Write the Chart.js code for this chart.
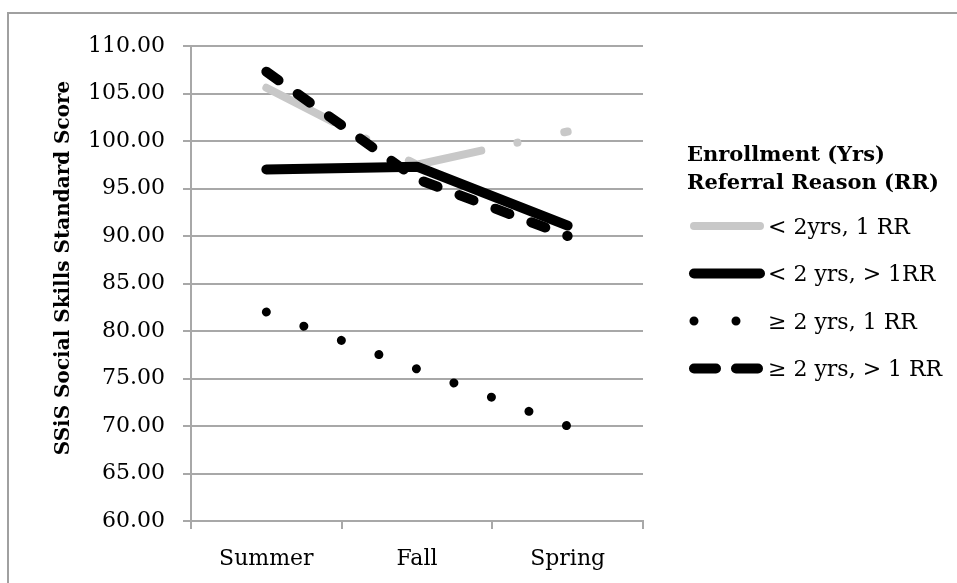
<!DOCTYPE html>
<html>
<head>
<meta charset="utf-8">
<script src="https://cdn.jsdelivr.net/npm/chart.js@4"></script>
<style>
  html, body { margin: 0; padding: 0; background: #fff; }
</style>
</head>
<body>
<canvas id="chart" width="957" height="583"></canvas>
<script>
const seasons = ['Summer', 'Fall', 'Spring'];
const under2OneRR = [105.6, 97.5, 101.0];
const under2MultiRR = [97.0, 97.3, 91.1];
const over2OneRR = [82.0, 76.0, 70.0];
const over2MultiRR = [107.3, 96.0, 90.0];
const seriesLabels = ['< 2yrs, 1 RR', '< 2 yrs, > 1RR', '≥ 2 yrs, 1 RR', '≥ 2 yrs, > 1 RR'];
const legendTitle = ['Enrollment (Yrs)', 'Referral Reason (RR)'];
const yTitle = 'SSiS Social Skills Standard Score';
const yMin = 60, yMax = 110, yStep = 5;

const serif = '"DejaVu Serif", serif';
const gridColor = '#a8a8a8';

// legend samples differ a bit from the plotted strokes (Excel shrinks the pattern)
const legendStyles = [
  { color: '#c8c8c8', width: 8, dash: [] },
  { color: '#000', width: 10, dash: [] },
  { color: '#000', width: 9, dash: [0, 42] },
  { color: '#000', width: 10, dash: [22, 20] }
];

const extras = {
  id: 'extras',
  afterDraw(chart) {
    const ctx = chart.ctx;
    ctx.save();

    // outer frame
    ctx.strokeStyle = '#a0a0a0';
    ctx.lineWidth = 2;
    ctx.strokeRect(8, 13, 1200, 1200);

    // y axis title
    ctx.save();
    ctx.translate(64, 268);
    ctx.rotate(-Math.PI / 2);
    ctx.font = 'bold 20px ' + serif;
    ctx.fillStyle = '#000';
    ctx.textAlign = 'center';
    ctx.textBaseline = 'middle';
    ctx.fillText(yTitle, 0, 0);
    ctx.restore();

    // legend
    ctx.fillStyle = '#000';
    ctx.textAlign = 'left';
    ctx.textBaseline = 'middle';
    ctx.font = 'bold 21px ' + serif;
    legendTitle.forEach((t, i) => ctx.fillText(t, 687, 156 + i * 28));

    ctx.font = '22px ' + serif;
    chart.data.datasets.forEach((ds, i) => {
      const y = 226 + i * 47.5;
      const s = legendStyles[i];
      ctx.beginPath();
      ctx.strokeStyle = s.color;
      ctx.lineWidth = s.width;
      ctx.lineCap = 'round';
      ctx.setLineDash(s.dash);
      ctx.moveTo(694, y);
      ctx.lineTo(760, y);
      ctx.stroke();
      ctx.setLineDash([]);
      ctx.fillText(ds.label, 768, y + 2);
    });
    ctx.restore();
  }
};

new Chart(document.getElementById('chart'), {
  type: 'line',
  data: {
    labels: seasons,
    datasets: [
      { label: seriesLabels[0], data: under2OneRR, borderColor: '#c8c8c8', borderWidth: 8,
        borderDash: [75, 37, 0.01, 48], borderCapStyle: 'round', order: 4 },
      { label: seriesLabels[1], data: under2MultiRR, borderColor: '#000', borderWidth: 10,
        borderCapStyle: 'round', order: 3 },
      { label: seriesLabels[2], data: over2OneRR, borderColor: '#000', borderWidth: 9,
        borderDash: [0.01, 40.1], borderCapStyle: 'round', order: 2 },
      { label: seriesLabels[3], data: over2MultiRR, borderColor: '#000', borderWidth: 10,
        borderDash: [15, 23.4], borderCapStyle: 'round', order: 1 }
    ]
  },
  options: {
    responsive: false,
    animation: false,
    devicePixelRatio: 1,
    layout: { padding: { left: 0, top: 46, right: 314, bottom: 0 } },
    elements: {
      point: { radius: 0, hoverRadius: 0 },
      line: { tension: 0, borderJoinStyle: 'round' }
    },
    plugins: {
      legend: { display: false },
      tooltip: { enabled: false }
    },
    scales: {
      x: {
        offset: true,
        afterFit(scale) { scale.height = 62; },
        grid: { offset: true, drawOnChartArea: false, drawTicks: true, tickLength: 8,
                color: gridColor, lineWidth: 2 },
        border: { color: gridColor, width: 2 },
        ticks: { color: '#000', padding: 17, font: { family: serif, size: 22 } }
      },
      y: {
        min: yMin,
        max: yMax,
        afterFit(scale) { scale.width = 191; },
        grid: { color: gridColor, lineWidth: 2, tickLength: 8 },
        border: { color: gridColor, width: 2 },
        ticks: {
          stepSize: yStep,
          color: '#000',
          padding: 18,
          font: { family: serif, size: 22 },
          callback: v => v.toFixed(2)
        }
      }
    }
  },
  plugins: [extras]
});
</script>
</body>
</html>
